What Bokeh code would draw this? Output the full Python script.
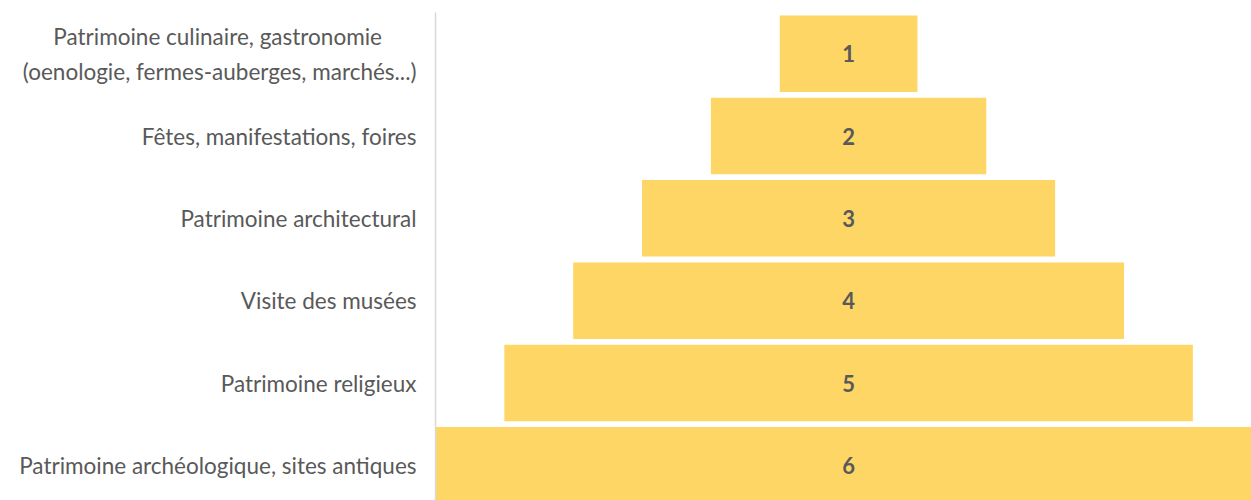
from bokeh.plotting import figure
from bokeh.models import Range1d, FixedTicker
from bokeh.embed import file_html
from bokeh.resources import INLINE
from bokeh.core.properties import value

# ---- data ----
NBSP = "\u00a0"
categories = [
    "Patrimoine culinaire, gastronomie" + NBSP * 6 + "\n(oenologie, fermes-auberges, marchés...)",
    "Fêtes, manifestations, foires",
    "Patrimoine architectural",
    "Visite des musées",
    "Patrimoine religieux",
    "Patrimoine archéologique, sites antiques",
]
ranks = [1, 2, 3, 4, 5, 6]
positions = [1, 2, 3, 4, 5, 6]

FONT = "Lato"
LABEL_COLOR = "#595959"
BAR_COLOR = "#FDD665"

p = figure(
    width=1251, height=500,
    x_range=Range1d(-3, 2.926),
    y_range=Range1d(6.427, 0.5),
    output_backend="svg", toolbar_location=None,
    min_border_left=435, min_border_right=0, min_border_top=12, min_border_bottom=0,
)
p.outline_line_color = None
p.xgrid.visible = False
p.ygrid.visible = False
p.xaxis.visible = False

left = [-r / 2 for r in ranks]
right = [r / 2 for r in ranks]
p.hbar(y=positions, left=left, right=right, height=0.93,
       fill_color=BAR_COLOR, line_color=None)

p.text(x=[0] * len(ranks), y=positions, text=[str(r) for r in ranks],
       text_align="center", text_baseline="middle",
       text_font=value(FONT), text_font_style="bold", text_font_size="22px",
       text_color=LABEL_COLOR)

yax = p.yaxis[0]
yax.ticker = FixedTicker(ticks=positions)
yax.major_label_overrides = {pos: cat for pos, cat in zip(positions, categories)}
yax.major_tick_in = 0
yax.major_tick_out = 0
yax.minor_tick_line_color = None
yax.major_tick_line_color = None
yax.axis_line_color = "#D9D9D9"
yax.axis_line_width = 1.5
yax.major_label_standoff = 19
yax.major_label_text_font = FONT
yax.major_label_text_font_size = "22.5px"
yax.major_label_text_color = LABEL_COLOR
yax.major_label_text_line_height = 1.3

open("out.html", "w").write(file_html(p, INLINE))
